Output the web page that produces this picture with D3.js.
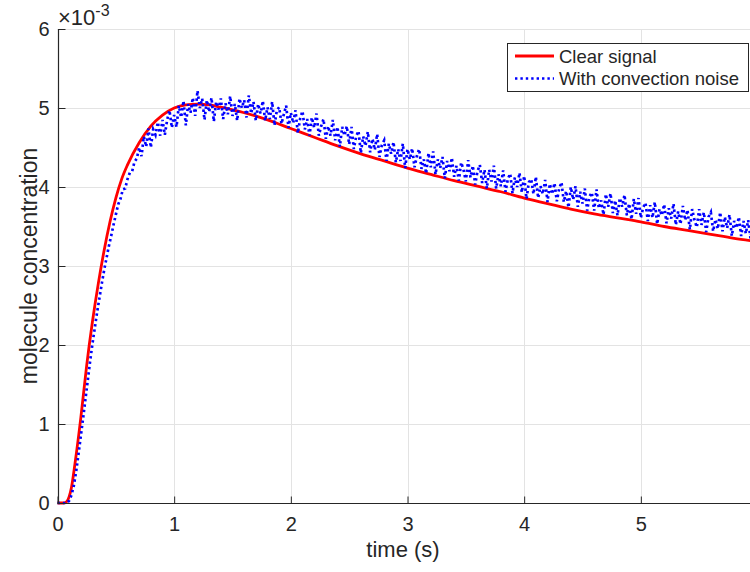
<!DOCTYPE html>
<html lang="en">
<head>
<meta charset="UTF-8">
<title>Molecule concentration</title>
<script src="https://d3js.org/d3.v7.min.js"></script>
<style>
  body { margin: 0; background: #fff; }
  svg text { font-family: "Liberation Sans", Arial, sans-serif; fill: #262626; }
</style>
</head>
<body>
<svg id="chart" width="750" height="572"></svg>
<script>
// clear signal, sampled (time s, concentration x1e-3)
var clearTimes = [0, 0.05, 0.08, 0.1, 0.12, 0.15, 0.2, 0.25, 0.3, 0.35, 0.4, 0.45, 0.5, 0.55, 0.6, 0.7, 0.8, 0.9,
  1.0, 1.1, 1.2, 1.3, 1.4, 1.6, 1.8, 2.0, 2.2, 2.4, 2.6, 2.8, 3.0, 3.2, 3.4, 3.6, 3.8, 4.0, 4.2, 4.4, 4.6, 4.8,
  5.0, 5.2, 5.4, 5.6, 5.8, 6.0];
var clearValues = [0, 0, 0.02, 0.08, 0.2, 0.5, 1.08, 1.74, 2.3, 2.78, 3.2, 3.56, 3.86, 4.1, 4.28, 4.56, 4.77, 4.91,
  5.0, 5.04, 5.05, 5.04, 5.01, 4.94, 4.85, 4.74, 4.63, 4.52, 4.42, 4.33, 4.24, 4.16, 4.08, 4.01, 3.94, 3.86, 3.79, 3.72, 3.66, 3.61,
  3.56, 3.5, 3.45, 3.4, 3.35, 3.31];

// noisy signal, one value every 0.02 s starting at t = 0
var noiseStep = 0.02;
var noiseValues = [
  0, 0, 0, 0, 0, 0.03, 0.1, 0.22, 0.4, 0.62,
  0.85, 1.08, 1.32, 1.56, 1.8, 2.02, 2.22, 2.42, 2.6, 2.78,
  2.95, 3.1, 3.25, 3.38, 3.52, 3.65, 3.78, 3.85, 3.97, 3.98,
  4.1, 4.18, 4.2, 4.32, 4.36,
  4.5, 4.39, 4.64, 4.51, 4.74, 4.5, 4.73, 4.66, 4.82, 4.65,
  4.85, 4.66, 4.85, 4.97, 4.75, 4.91, 4.76, 5.03, 4.88, 5.09,
  4.78, 5.05, 4.94, 5.13, 4.9, 5.22, 5.0, 5.12, 4.85, 5.1,
  4.95, 5.13, 4.83, 5.08, 4.98, 5.12, 4.86, 5.06, 4.92, 5.15,
  4.9, 5.05, 4.84, 5.12, 5.0, 5.1, 4.88, 5.16, 4.93, 5.08,
  4.84, 5.05, 4.93, 5.09, 4.84, 5.01, 4.86, 5.08, 4.78, 4.97,
  5.01, 4.8, 4.92, 5.03, 4.75, 4.94, 4.81, 4.97, 4.68, 4.87,
  4.96, 4.73, 4.86, 4.65, 4.88, 4.75, 4.93, 4.65, 4.77, 4.86,
  4.61, 4.77, 4.65, 4.85, 4.59, 4.76, 4.51, 4.76, 4.65, 4.77,
  4.54, 4.76, 4.48, 4.64, 4.71, 4.43, 4.64, 4.52, 4.7, 4.44,
  4.61, 4.47, 4.67, 4.38, 4.53, 4.59, 4.33, 4.55, 4.42, 4.57,
  4.31, 4.48, 4.33, 4.55, 4.24, 4.48, 4.35, 4.49, 4.25, 4.39,
  4.48, 4.23, 4.35, 4.17, 4.43, 4.25, 4.45, 4.16, 4.35, 4.24,
  4.38, 4.11, 4.33, 4.2, 4.37, 4.13, 4.27, 4.08, 4.31, 4.22,
  4.07, 4.34, 4.12, 4.27, 4.03, 4.2, 4.28, 4.05, 4.22, 3.98,
  4.22, 4.07, 4.27, 3.98, 4.16, 4.01, 4.21, 3.94, 4.1, 4.17,
  3.92, 4.12, 4.0, 4.18, 3.93, 4.14, 3.85, 4.06, 4.1, 3.91,
  4.13, 3.86, 4.01, 3.91, 4.09, 3.81, 4.04, 3.91, 4.05, 3.82,
  3.98, 4.06, 3.81, 3.95, 3.74, 4.0, 3.84, 4.01, 3.75, 3.94,
  3.79, 3.98, 3.7, 3.88, 3.93, 3.7, 3.97, 3.73, 3.83, 3.65,
  3.91, 3.75, 3.92, 3.67, 3.83, 3.64, 3.86, 3.75, 3.9, 3.64,
  3.79, 3.59, 3.85, 3.66, 3.86, 3.61, 3.74, 3.8, 3.57, 3.77,
  3.61, 3.81, 3.53, 3.72, 3.64, 3.78, 3.54, 3.73, 3.6, 3.79,
  3.52, 3.69, 3.53, 3.76, 3.58, 3.71, 3.46, 3.72, 3.58, 3.49,
  3.72, 3.52, 3.68, 3.43, 3.62, 3.68, 3.44, 3.59, 3.47, 3.68,
  3.44, 3.62, 3.48, 3.65, 3.38, 3.57, 3.48, 3.62, 3.38, 3.57,
  3.41, 3.58, 3.35, 3.53, 3.43
];

var xTicks = [0, 1, 2, 3, 4, 5];
var yTicks = [0, 1, 2, 3, 4, 5, 6];
var legendLabels = ["Clear signal", "With convection noise"];

var clearData = clearTimes.map((t, i) => ({ t: t, v: clearValues[i] }));
var noiseData = noiseValues.map((v, i) => ({ t: i * noiseStep, v: v }));

var margin = { left: 57.5, top: 29, bottom: 69 };
var svg = d3.select("#chart");

var x = d3.scaleLinear().domain([0, 6]).range([margin.left, margin.left + 700]);
var y = d3.scaleLinear().domain([0, 6]).range([572 - margin.bottom, margin.top]);

// grid
var grid = svg.append("g").attr("stroke", "#e3e3e3").attr("stroke-width", 1);
grid.selectAll(".gx").data(xTicks.slice(1)).enter().append("line")
  .attr("x1", d => Math.round(x(d)) + 0.5).attr("x2", d => Math.round(x(d)) + 0.5)
  .attr("y1", y(6)).attr("y2", y(0));
grid.selectAll(".gy").data(yTicks.slice(1)).enter().append("line")
  .attr("x1", x(0)).attr("x2", 750)
  .attr("y1", d => Math.round(y(d)) + 0.5).attr("y2", d => Math.round(y(d)) + 0.5);

// curves
svg.append("path")
  .datum(clearData)
  .attr("d", d3.line().x(d => x(d.t)).y(d => y(d.v)).curve(d3.curveMonotoneX))
  .attr("fill", "none").attr("stroke", "#ff0000").attr("stroke-width", 2.8);

svg.append("path")
  .datum(noiseData)
  .attr("d", d3.line().x(d => x(d.t)).y(d => y(d.v)))
  .attr("fill", "none").attr("stroke", "#0000ff").attr("stroke-width", 2.7)
  .attr("stroke-dasharray", "2.4,3");

// axes (MATLAB style, ticks inward)
var xAxis = svg.append("g").attr("transform", "translate(0," + (Math.round(y(0)) + 0.5) + ")")
  .call(d3.axisBottom(x).tickValues(xTicks).tickSize(-7).tickPadding(13).tickFormat(d3.format("d")));
var yAxis = svg.append("g").attr("transform", "translate(" + (Math.round(x(0)) + 0.5) + ",0)")
  .call(d3.axisLeft(y).tickValues(yTicks).tickSize(-7).tickPadding(9).tickFormat(d3.format("d")));
[xAxis, yAxis].forEach(function (g) {
  g.select(".domain").attr("stroke", "#262626").attr("stroke-width", 1.2);
  g.selectAll(".tick line").attr("stroke", "#262626");
  g.selectAll(".tick text").attr("font-size", 20).attr("fill", "#262626")
    .style("font-family", "'Liberation Sans', Arial, sans-serif");
});
xAxis.select(".domain").attr("d", "M" + x(0) + ",0H750");
yAxis.select(".domain").attr("d", "M0," + y(0) + "V" + y(6));

// exponent label
var expo = svg.append("text").attr("x", 58).attr("y", 25).attr("font-size", 22);
expo.append("tspan").text("\u00d710");
expo.append("tspan").attr("dy", -9.5).attr("font-size", 16).text("-3");

// axis titles
svg.append("text").attr("x", 403).attr("y", 557).attr("text-anchor", "middle")
  .attr("font-size", 22).text("time (s)");
svg.append("text").attr("transform", "translate(37,266) rotate(-90)").attr("text-anchor", "middle")
  .attr("font-size", 23).text("molecule concentration");

// legend
var legend = svg.append("g").attr("transform", "translate(507,43)");
legend.append("rect").attr("x", 0.5).attr("y", 0.5).attr("width", 241).attr("height", 48)
  .attr("fill", "#fff").attr("stroke", "#262626").attr("stroke-width", 1);
var entries = legend.selectAll(".entry").data(legendLabels).enter().append("g")
  .attr("transform", (d, i) => "translate(0," + (13 + i * 22.5) + ")");
entries.append("line").attr("x1", 8).attr("x2", 47).attr("y1", 0).attr("y2", 0)
  .attr("stroke", (d, i) => i === 0 ? "#ff0000" : "#0000ff")
  .attr("stroke-width", (d, i) => i === 0 ? 2.8 : 2.7)
  .attr("stroke-dasharray", (d, i) => i === 0 ? null : "2.4,3");
entries.append("text").attr("x", 52).attr("y", 6.5).attr("font-size", 18.5).text(d => d);
</script>
</body>
</html>
